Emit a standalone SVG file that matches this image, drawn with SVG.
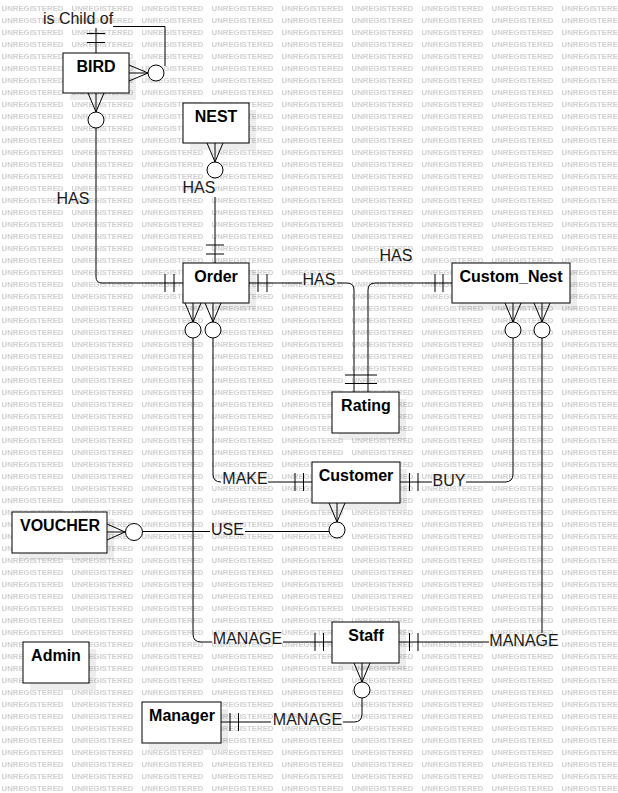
<svg xmlns="http://www.w3.org/2000/svg" width="618" height="793" viewBox="0 0 618 793">
<style>
.ln{stroke:#000;stroke-width:1;fill:none}
.ci{stroke:#000;stroke-width:1;fill:#fff}
.box{stroke:#000;stroke-width:1;fill:#fff}
.sh{fill:#000;fill-opacity:0.07}
.nm{font-family:"Liberation Sans",Arial,sans-serif;font-size:16px;font-weight:bold;fill:#000;text-anchor:middle}
.lb{font-family:"Liberation Sans",Arial,sans-serif;font-size:16px;fill:#1a1a1a;text-anchor:middle}
.wm{font-family:"Liberation Sans",Arial,sans-serif;font-size:8px;font-weight:bold;fill:#d0d0d0}
</style>
<defs>
<pattern id="wmp" x="0" y="0" width="70" height="12" patternUnits="userSpaceOnUse">
<text class="wm" x="1.5" y="10.5" textLength="62" lengthAdjust="spacingAndGlyphs">UNREGISTERED</text>
</pattern>
</defs>
<rect width="618" height="793" fill="#fff"/>
<rect width="618" height="793" fill="url(#wmp)"/>

<g id="connectors">
<!-- BIRD self -->
<path class="ln" d="M96,53 V28 M113,26.5 H165 V66"/>
<path class="ln" d="M87,33.5 H105 M87,42.5 H105"/>
<path class="ln" d="M148,73 L129,65 M148,73 L129,73 M148,73 L129,81"/>
<circle class="ci" cx="156" cy="73" r="8"/>
<text class="lb" x="78" y="24">is Child of</text>
<!-- BIRD - Order -->
<path class="ln" d="M96,112 L88,93 M96,112 L96,93 M96,112 L104,93"/>
<circle class="ci" cx="96" cy="120" r="8"/>
<path class="ln" d="M96,128 V277 Q96,283 102,283 H183"/>
<path class="ln" d="M165,274 V292 M174,274 V292"/>
<text class="lb" x="73" y="204">HAS</text>
<!-- NEST - Order -->
<path class="ln" d="M215,162 L207,143 M215,162 L215,143 M215,162 L223,143"/>
<circle class="ci" cx="215" cy="170" r="8"/>
<path class="ln" d="M215,197 V263"/>
<path class="ln" d="M206,245 H224 M206,254 H224"/>
<text class="lb" x="199" y="193">HAS</text>
<!-- Order - Rating -->
<path class="ln" d="M249,283 H302 M337,283 H347 Q354,283 354,290 V392"/>
<path class="ln" d="M258,274 V292 M267,274 V292"/>
<text class="lb" x="319" y="285">HAS</text>
<!-- Custom_Nest - Rating -->
<path class="ln" d="M452,283 H375 Q368,283 368,290 V392"/>
<path class="ln" d="M443,274 V292 M435,274 V292"/>
<path class="ln" d="M345,375 H377 M345,383.5 H377"/>
<text class="lb" x="396" y="261">HAS</text>
<!-- Order - Staff -->
<path class="ln" d="M193,322 L185,303 M193,322 L193,303 M193,322 L201,303"/>
<circle class="ci" cx="193" cy="330" r="8"/>
<path class="ln" d="M193,338 V634 Q193,642 201,642 H212 M283,642 H332"/>
<path class="ln" d="M315,633 V651 M323.5,633 V651"/>
<text class="lb" x="247.5" y="644">MANAGE</text>
<!-- Order - Customer -->
<path class="ln" d="M213,322 L205,303 M213,322 L213,303 M213,322 L221,303"/>
<circle class="ci" cx="213" cy="330" r="8"/>
<path class="ln" d="M213,338 V474 Q213,482 221,482 M268,482 H312"/>
<path class="ln" d="M295,473 V491 M303.5,473 V491"/>
<text class="lb" x="245" y="484">MAKE</text>
<!-- Custom_Nest - Customer -->
<path class="ln" d="M513,322 L505,303 M513,322 L513,303 M513,322 L521,303"/>
<circle class="ci" cx="513" cy="330" r="8"/>
<path class="ln" d="M513,338 V474 Q513,482 505,482 H466 M432,482 H400"/>
<path class="ln" d="M409.5,473 V491 M418,473 V491"/>
<text class="lb" x="449" y="486">BUY</text>
<!-- Custom_Nest - Staff -->
<path class="ln" d="M542,322 L534,303 M542,322 L542,303 M542,322 L550,303"/>
<circle class="ci" cx="542" cy="330" r="8"/>
<path class="ln" d="M542,338 V633 M489,642 H399"/>
<path class="ln" d="M409.5,633 V651 M418,633 V651"/>
<text class="lb" x="524" y="646">MANAGE</text>
<!-- Customer - VOUCHER -->
<path class="ln" d="M337,522 L329,503 M337,522 L337,503 M337,522 L345,503"/>
<circle class="ci" cx="337" cy="530" r="8"/>
<path class="ln" d="M329,531.5 H245 M210,531.5 H143"/>
<path class="ln" d="M125,532 L107,524 M125,532 L107,532 M125,532 L107,540"/>
<circle class="ci" cx="134" cy="532" r="8.5"/>
<text class="lb" x="227.5" y="535">USE</text>
<!-- Staff - Manager -->
<path class="ln" d="M362,682 L354,663 M362,682 L362,663 M362,682 L370,663"/>
<circle class="ci" cx="362" cy="690" r="8"/>
<path class="ln" d="M362,698 V714 Q362,722 354,722 H343 M271,722 H221"/>
<path class="ln" d="M230,713 V731 M238.5,713 V731"/>
<text class="lb" x="307.5" y="725">MANAGE</text>
</g>

<g id="BIRD"><rect class="sh" x="70" y="60" width="66" height="40"/><rect class="box" x="63" y="53" width="66" height="40"/><text class="nm" x="96" y="71.5">BIRD</text></g>
<g id="NEST"><rect class="sh" x="190" y="110" width="66" height="40"/><rect class="box" x="183" y="103" width="66" height="40"/><text class="nm" x="216" y="121.5">NEST</text></g>
<g id="Order"><rect class="sh" x="190" y="270" width="66" height="40"/><rect class="box" x="183" y="263" width="66" height="40"/><text class="nm" x="216" y="281.5">Order</text></g>
<g id="Custom_Nest"><rect class="sh" x="459" y="270" width="118" height="40"/><rect class="box" x="452" y="263" width="118" height="40"/><text class="nm" x="511" y="281.5">Custom_Nest</text></g>
<g id="Rating"><rect class="sh" x="339" y="399" width="67" height="41"/><rect class="box" x="332" y="392" width="67" height="41"/><text class="nm" x="366" y="410.5">Rating</text></g>
<g id="Customer"><rect class="sh" x="319" y="469" width="88" height="41"/><rect class="box" x="312" y="462" width="88" height="41"/><text class="nm" x="356" y="480.5">Customer</text></g>
<g id="VOUCHER"><rect class="sh" x="19" y="519" width="95" height="41"/><rect class="box" x="12" y="512" width="95" height="41"/><text class="nm" x="60" y="530.5">VOUCHER</text></g>
<g id="Staff"><rect class="sh" x="339" y="629" width="67" height="41"/><rect class="box" x="332" y="622" width="67" height="41"/><text class="nm" x="366" y="640.5">Staff</text></g>
<g id="Admin"><rect class="sh" x="30" y="649" width="66" height="41"/><rect class="box" x="23" y="642" width="66" height="41"/><text class="nm" x="56" y="660.5">Admin</text></g>
<g id="Manager"><rect class="sh" x="149" y="709" width="79" height="41"/><rect class="box" x="142" y="702" width="79" height="41"/><text class="nm" x="182" y="720.5">Manager</text></g>
</svg>
